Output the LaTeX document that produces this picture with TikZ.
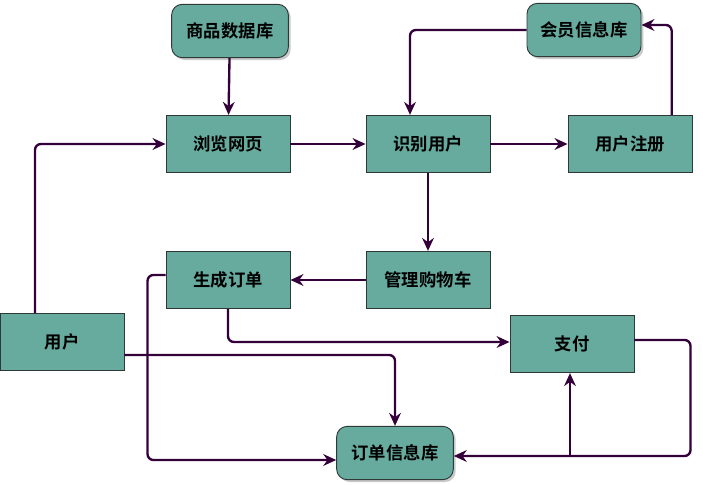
\documentclass[tikz,border=0pt]{standalone}
\usepackage{fontspec}
\newfontfamily\cjk{Noto Sans CJK SC}[BoldFont={Noto Sans CJK SC Bold}]
\usetikzlibrary{arrows.meta,shadows}
\definecolor{boxfill}{HTML}{67AB9F}
\definecolor{boxline}{HTML}{2F3A38}
\definecolor{flowline}{HTML}{33003A}

\begin{document}
\begin{tikzpicture}[x=0.03cm,y=-0.03cm,
    box/.style={draw=boxline,fill=boxfill,line width=0.8pt,minimum width=3.72cm,minimum height=1.72cm,
      font=\cjk\bfseries\fontsize{14.8}{17}\selectfont,inner sep=0pt},
    dbox/.style={box,rounded corners=9pt,minimum width=3.5cm,minimum height=1.6cm,
      drop shadow={shadow xshift=2pt,shadow yshift=-2pt,fill=black!35,opacity=0.6}},
    flow/.style={draw=flowline,line width=2pt,rounded corners=5pt,-{Stealth[length=11pt,width=10pt]}}]
    \useasboundingbox (0,0) rectangle (703,485);
    % stores
    \node[dbox] (goods) at (230,31) {商品数据库};
    \node[dbox,minimum width=3.42cm] (vip) at (584,30) {会员信息库};
    \node[dbox] (orders) at (395,453) {订单信息库};
    % steps
    \node[box] (browse) at (228,144) {浏览网页};
    \node[box] (ident) at (428,144) {识别用户};
    \node[box] (reg) at (630,144) {用户注册};
    \node[box] (cart) at (428,280) {管理购物车};
    \node[box] (order) at (228,280) {生成订单};
    \node[box] (user) at (62,342) {用户};
    \node[box] (pay) at (572,344) {支付};
    \coordinate (split) at (570,456);
    % connectors
    \draw[flow] (goods) -- (browse);
    \draw[flow] (browse) -- (ident);
    \draw[flow] (ident) -- (reg);
    \draw[flow] (ident) -- (cart);
    \draw[flow] (cart) -- (order);
    \draw[flow] ([xshift=1.25cm]reg.north) |- ([yshift=0.15cm]vip.east);
    \draw[flow] (vip.west) -| ([xshift=-0.54cm]ident.north);
    \draw[flow] ([xshift=-0.81cm]user.north) |- (browse.west);
    \draw[flow] ([yshift=-0.39cm]user.east) -| (orders.north);
    \draw[flow] (order.south) |- ([yshift=0.06cm]pay.west);
    \draw[flow] ([yshift=0.15cm]order.west) -- ++(-18,0) |- ([yshift=-0.21cm]orders.west);
    \draw[flow] ([yshift=0.12cm]pay.east) -- ++(56,0) |- ([yshift=-0.09cm]orders.east);
    \draw[flow] (split) -- (split |- pay.south);
\end{tikzpicture}
\end{document}
